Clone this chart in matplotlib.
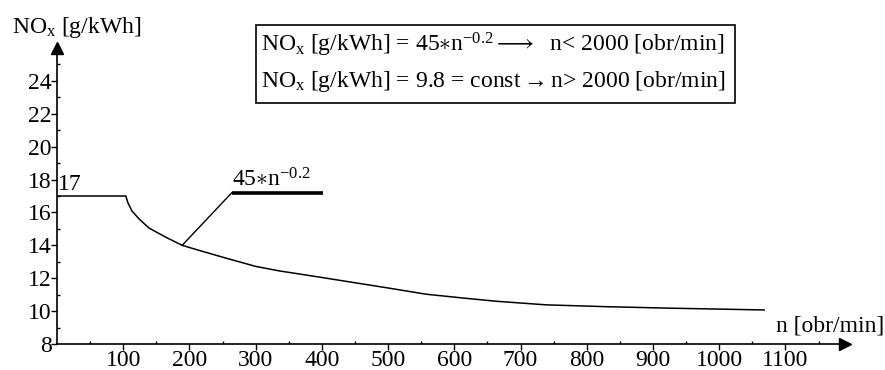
import matplotlib
matplotlib.use("Agg")
import matplotlib.pyplot as plt
from matplotlib.patches import Rectangle

# curve
n_vals = [0, 104, 107, 113, 124, 139, 164, 189, 214, 257, 300, 335, 396,
          446, 501, 557, 612, 663, 739, 829, 924, 1068]
nox = [17, 17, 16.6, 16.1, 15.6, 15.05, 14.5, 14.0, 13.7, 13.2, 12.72, 12.45,
       12.07, 11.75, 11.4, 11.03, 10.8, 10.6, 10.38, 10.27, 10.18, 10.07]

x_major = [100, 200, 300, 400, 500, 600, 700, 800, 900, 1000, 1100]
x_minor = [50, 150, 250, 350, 450, 550, 650, 750, 850, 950, 1050, 1150]
y_major = [8, 10, 12, 14, 16, 18, 20, 22, 24]
y_minor = [9, 11, 13, 15, 17, 19, 21, 23, 25]

# leader for the formula label
lead_n = [189, 264]
lead_y = [14.0, 17.2]
label_bar_n = [264, 402]

plt.rcParams['font.family'] = ['Liberation Serif', 'DejaVu Serif']
plt.rcParams['mathtext.fontset'] = 'custom'
plt.rcParams['mathtext.rm'] = 'Liberation Serif'
plt.rcParams['mathtext.it'] = 'Liberation Serif'
fs = 17

fig = plt.figure(figsize=(8.85, 3.70), dpi=100)
W, H = 885, 370
ax = fig.add_axes([57 / W, (H - 344) / H, (845 - 57) / W, (344 - 48) / H])
ax.set_xlim(0, 1190)
ax.set_ylim(8, 26)

ax.plot(n_vals, nox, color='black', lw=1.1)
ax.plot(lead_n, lead_y, color='black', lw=1.0)
ax.plot(label_bar_n, [lead_y[1]] * 2, color='black', lw=2.6, solid_capstyle='butt')
ax.text(lead_n[1], lead_y[1] + 0.1, r'45$\ast$n$^{-0.2}$', fontsize=fs, va='bottom', ha='left')
ax.text(2, 17.05, '17', fontsize=fs, va='bottom', ha='left')

for s in ['top', 'right']:
    ax.spines[s].set_visible(False)
for s in ['left', 'bottom']:
    ax.spines[s].set_linewidth(1.2)
ax.plot(1, 0, '>k', markersize=9, transform=ax.transAxes, clip_on=False)
ax.plot(0, 1, '^k', markersize=9, transform=ax.transAxes, clip_on=False)

ax.set_xticks(x_major)
ax.set_xticks(x_minor, minor=True)
ax.set_yticks(y_major)
ax.set_yticks(y_minor, minor=True)
ax.tick_params(axis='both', which='major', direction='out', length=4, width=1,
               labelsize=fs, pad=0)
ax.tick_params(axis='both', which='minor', direction='in', length=2, width=1)

fig.text(12 / W, (H - 27) / H, r'NO$_{\mathrm{x}}$ [g/kWh]', fontsize=fs, va='center', ha='left')
fig.text(884 / W, (H - 326) / H, 'n [obr/min]', fontsize=fs, va='center', ha='right')

fig.patches.append(Rectangle((256 / W, (H - 103) / H), (735 - 256) / W, 78 / H,
                             transform=fig.transFigure, fill=False, ec='black', lw=1.2))
fig.text(261 / W, (H - 45) / H,
         r'NO$_{\mathrm{x}}$ [g/kWh] = 45$\ast$n$^{-0.2}$$\longrightarrow$  n< 2000 [obr/min]',
         fontsize=fs, va='center', ha='left')
fig.text(261 / W, (H - 82) / H,
         r'NO$_{\mathrm{x}}$ [g/kWh] = 9.8 = const$\rightarrow$n> 2000 [obr/min]',
         fontsize=fs, va='center', ha='left')

fig.savefig('out.png', dpi=100)
